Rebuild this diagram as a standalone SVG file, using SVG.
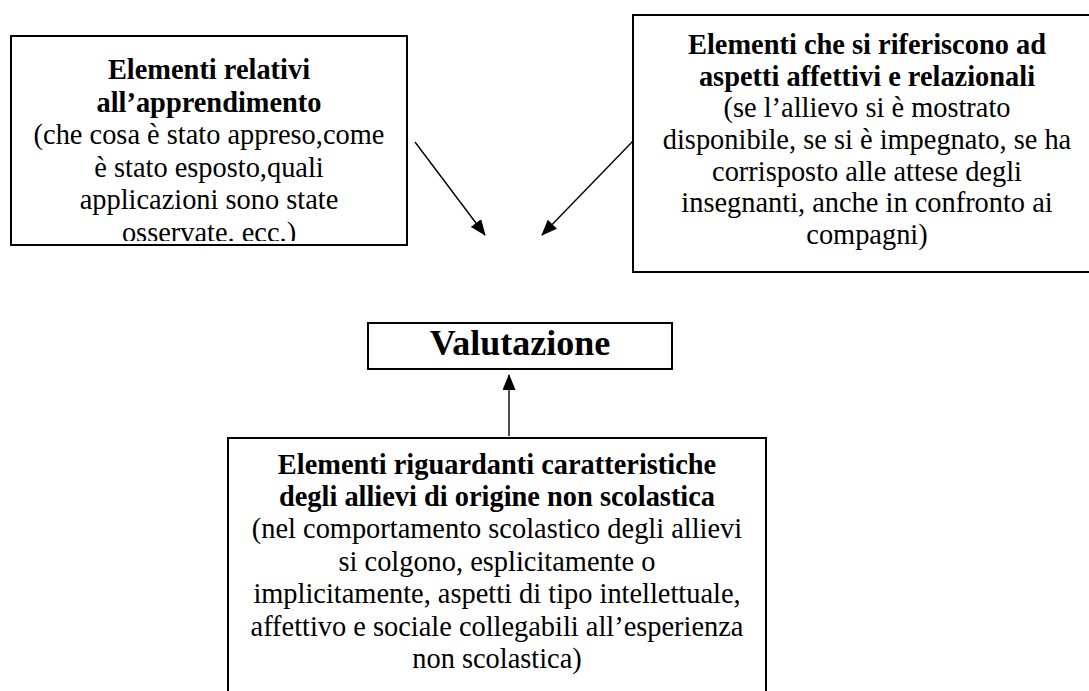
<svg xmlns="http://www.w3.org/2000/svg" width="1089" height="691" viewBox="0 0 1089 691">
<style>
.box{fill:#fff;stroke:#000;stroke-width:2}
.t{font-family:"Liberation Serif","Times New Roman",serif;font-size:28.4px;fill:#000;text-anchor:middle}
.b{font-weight:bold}
.v{font-family:"Liberation Serif","Times New Roman",serif;font-size:36px;font-weight:bold;fill:#000;text-anchor:middle}
.c{stroke:#000;stroke-width:1.4;fill:none;marker-end:url(#ah)}
</style>
<defs>
<marker id="ah" markerUnits="userSpaceOnUse" markerWidth="16" markerHeight="13" refX="15" refY="6.5" orient="auto">
<path d="M0,0 L16,6.5 L0,13 z" fill="#000"/>
</marker>
<clipPath id="c1"><rect x="12" y="37" width="394" height="204"/></clipPath>
</defs>
<rect width="1089" height="691" fill="#fff"/>
<g id="n1">
<rect class="box" x="11" y="36" width="396" height="209"/>
<g clip-path="url(#c1)">
<text class="t b" x="209" y="79">Elementi relativi</text>
<text class="t b" x="209" y="111.5">all’apprendimento</text>
<text class="t" x="209" y="144">(che cosa è stato appreso,come</text>
<text class="t" x="209" y="176.5">è stato esposto,quali</text>
<text class="t" x="209" y="209">applicazioni sono state</text>
<text class="t" x="209" y="242">osservate. ecc.)</text>
</g>
</g>
<g id="n2">
<rect class="box" x="633" y="15" width="468" height="257"/>
<text class="t b" x="867" y="54">Elementi che si riferiscono ad</text>
<text class="t b" x="867" y="86">aspetti affettivi e relazionali</text>
<text class="t" x="867" y="117">(se l’allievo si è mostrato</text>
<text class="t" x="867" y="149">disponibile, se si è impegnato, se ha</text>
<text class="t" x="867" y="181">corrisposto alle attese degli</text>
<text class="t" x="867" y="212">insegnanti, anche in confronto ai</text>
<text class="t" x="867" y="244">compagni)</text>
</g>
<g id="n3">
<rect class="box" x="368" y="323" width="304" height="46"/>
<text class="v" x="520" y="355">Valutazione</text>
</g>
<g id="n4">
<rect class="box" x="228" y="438" width="538" height="260"/>
<text class="t b" x="497" y="474">Elementi riguardanti caratteristiche</text>
<text class="t b" x="497" y="506">degli allievi di origine non scolastica</text>
<text class="t" x="497" y="538">(nel comportamento scolastico degli allievi</text>
<text class="t" x="497" y="571">si colgono, esplicitamente o</text>
<text class="t" x="497" y="603">implicitamente, aspetti di tipo intellettuale,</text>
<text class="t" x="497" y="636">affettivo e sociale collegabili all’esperienza</text>
<text class="t" x="497" y="668">non scolastica)</text>
</g>
<g id="connectors">
<line class="c" x1="415" y1="142" x2="485" y2="235"/>
<line class="c" x1="633" y1="141" x2="542" y2="235"/>
<line class="c" x1="509" y1="436" x2="509" y2="375"/>
</g>
</svg>
